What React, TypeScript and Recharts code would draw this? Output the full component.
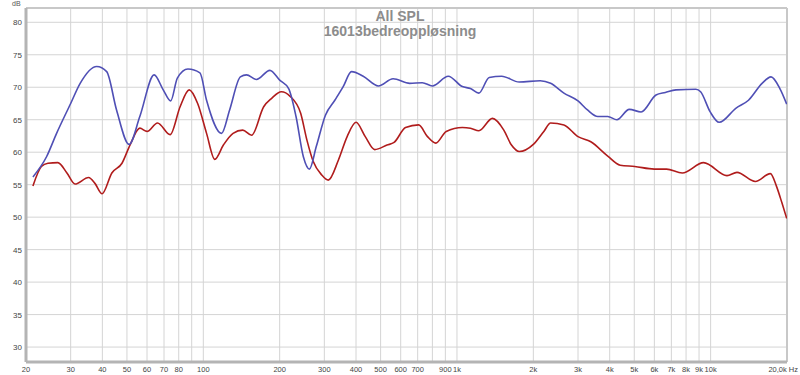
import { LineChart, Line, XAxis, YAxis, CartesianGrid, ReferenceLine } from "recharts";

// frequency (Hz) / level (dB)
const blueFreq = [
  21.3, 24.1, 26.4, 30, 32.7, 38, 41.6, 45.5, 51, 56.2, 64, 69.5, 74.4, 79, 87, 97, 103, 118, 127, 140, 148, 162,
  183, 200, 217, 232, 248, 262, 279, 303, 330, 356, 384, 427, 490, 560, 651, 730, 800, 924, 1050, 1130, 1220, 1340,
  1500, 1760, 2130, 2340, 2640, 3000, 3270, 3590, 3930, 4270, 4780, 5320, 6090, 6630, 7300, 8750, 9130, 9960,
  10800, 12600, 14100, 15950, 17300, 18750, 19950,
];
const blueDb = [
  56.2, 59.3, 62.9, 67.5, 70.6, 73.2, 72.4, 66.5, 61.2, 65.5, 71.9, 69.6, 67.9, 71.4, 72.8, 72.2, 68.0, 62.9, 66.5,
  71.6, 71.9, 71.2, 72.6, 71.1, 69.8, 65.5, 59.3, 57.4, 60.9, 65.7, 68.0, 70.1, 72.4, 71.7, 70.2, 71.3, 70.6, 70.7,
  70.2, 71.7, 70.1, 69.8, 69.1, 71.5, 71.7, 70.8, 71.0, 70.6, 69.1, 67.9, 66.5, 65.5, 65.5, 65.0, 66.6, 66.2, 68.8,
  69.2, 69.6, 69.7, 69.3, 66.2, 64.6, 66.8, 68.0, 70.6, 71.6, 69.8, 67.4,
];

const redFreq = [
  21.3, 23, 24.4, 26.7, 29, 31.2, 35.3, 37.4, 39.9, 43.6, 47.8, 51.4, 56.2, 60, 66, 74, 81, 88, 95, 103, 111, 120,
  131, 143, 155, 173, 186, 203, 220, 242, 256, 271, 293, 311, 341, 369, 400, 435, 474, 530, 565, 627, 706, 765, 825,
  907, 1050, 1130, 1220, 1380, 1530, 1640, 1760, 2000, 2200, 2340, 2640, 3000, 3370, 3930, 4400, 5020, 5990, 6700,
  7730, 9380, 11600, 12700, 15000, 17200, 18200, 19100, 19950,
];
const redDb = [
  54.8, 57.8, 58.3, 58.4, 56.8, 55.1, 56.1, 55.2, 53.6, 56.8, 58.3, 61.1, 63.7, 63.2, 64.5, 62.7, 67.0, 69.6, 67.5,
  62.9, 58.9, 61.1, 62.9, 63.4, 62.6, 67.0, 68.3, 69.3, 68.6, 66.0, 61.9, 58.6, 56.5, 55.7, 58.8, 62.4, 64.6, 62.4,
  60.4, 61.1, 61.5, 63.8, 64.2, 62.4, 61.4, 63.2, 63.8, 63.7, 63.3, 65.2, 63.4, 61.1, 60.1, 61.2, 63.2, 64.5, 64.2,
  62.4, 61.6, 59.4, 58.0, 57.8, 57.4, 57.4, 56.8, 58.4, 56.4, 56.9, 55.5, 56.7, 54.7, 52.2, 49.8,
];

const xTicks = [
  20, 30, 40, 50, 60, 70, 80, 90, 100, 200, 300, 400, 500, 600, 700, 800, 900, 1000, 2000, 3000, 4000, 5000, 6000,
  7000, 8000, 9000, 10000, 20000,
];
const xTickLabels = [
  "20", "30", "40", "50", "60", "70", "80", "", "100", "200", "300", "400", "500", "600", "700", "", "900", "1k",
  "2k", "3k", "4k", "5k", "6k", "7k", "8k", "9k", "10k", "20,0k Hz",
];
const yTicks = [30, 35, 40, 45, 50, 55, 60, 65, 70, 75, 80];

const Y_MIN = 27.7;
const Y_MAX = 82.2;

const blueData = blueFreq.map((f, i) => ({ f, db: blueDb[i] }));
const redData = redFreq.map((f, i) => ({ f, db: redDb[i] }));

const FONT = "'Liberation Sans', Arial, sans-serif";

const XTick = ({ x, y, payload }: any) => {
  const i = xTicks.indexOf(payload.value);
  const label = xTickLabels[i] ?? "";
  if (!label) return null;
  const last = payload.value === 20000;
  return (
    <text
      x={last ? 798 : x}
      y={y + 10}
      textAnchor={last ? "end" : "middle"}
      fontSize={7.5}
      fontFamily={FONT}
      fill="#444"
    >
      {label}
    </text>
  );
};

const YTick = ({ x, y, payload }: any) => (
  <text x={x - 4} y={y + 3} textAnchor="end" fontSize={8} fontFamily={FONT} fill="#444">
    {payload.value}
  </text>
);

export default function App() {
  return (
    <div style={{ position: "absolute", left: 0, top: 0, width: 800, height: 375, background: "#fff" }}>
      <LineChart width={800} height={375} margin={{ top: 8, right: 13, bottom: 0, left: 0 }}>
        <CartesianGrid stroke="#d4d4d4" strokeWidth={1} />
        <XAxis
          dataKey="f"
          type="number"
          scale="log"
          domain={[20, 20000]}
          ticks={xTicks}
          allowDataOverflow
          height={13}
          tickSize={0}
          tickMargin={0}
          tick={<XTick />}
          axisLine={{ stroke: "#b4b4b4", strokeWidth: 3 }}
          interval={0}
        />
        <YAxis
          type="number"
          domain={[Y_MIN, Y_MAX]}
          ticks={yTicks}
          allowDataOverflow
          width={26}
          tickSize={0}
          tickMargin={0}
          tick={<YTick />}
          axisLine={{ stroke: "#b4b4b4", strokeWidth: 3 }}
          interval={0}
        />
        <ReferenceLine y={Y_MAX} stroke="#c8c8c8" strokeWidth={2} />
        <ReferenceLine x={20000} stroke="#c8c8c8" strokeWidth={2} />
        <Line
          data={redData}
          dataKey="db"
          type="monotone"
          stroke="#b01c1c"
          strokeWidth={1.6}
          dot={false}
          isAnimationActive={false}
        />
        <Line
          data={blueData}
          dataKey="db"
          type="monotone"
          stroke="#4f4fb5"
          strokeWidth={1.6}
          dot={false}
          isAnimationActive={false}
        />
      </LineChart>
      <div
        style={{
          position: "absolute",
          left: 12,
          top: 0,
          fontSize: 7,
          fontFamily: FONT,
          color: "#555",
          lineHeight: "8px",
        }}
      >
        dB
      </div>
      <div
        style={{
          position: "absolute",
          left: 0,
          width: 800,
          top: 9,
          textAlign: "center",
          fontFamily: FONT,
          fontWeight: "bold",
          fontSize: 14,
          lineHeight: "15px",
          color: "#8c8c8c",
        }}
      >
        <div>All SPL</div>
        <div>16013bedreoppløsning</div>
      </div>
    </div>
  );
}
